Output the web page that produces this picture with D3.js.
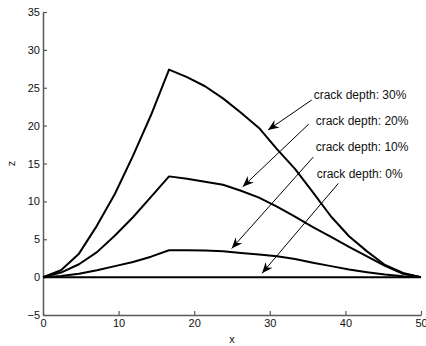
<!DOCTYPE html>
<html>
<head>
<meta charset="utf-8">
<script src="https://cdn.jsdelivr.net/npm/d3@7"></script>
<style>
  html, body { margin: 0; padding: 0; background: #fff; }
  svg { display: block; }
  text { font-family: Arial, "Liberation Sans", sans-serif; }
</style>
</head>
<body>
<svg id="chart" width="426" height="346"></svg>
<script>
// Sample positions along the span
const xs = [0, 2.38, 4.76, 7.14, 9.52, 11.9, 14.29, 16.67, 19.05, 21.43, 23.81, 26.19,
            28.57, 30.95, 33.33, 35.71, 38.1, 40.48, 42.86, 45.24, 47.62, 50];

// Deflection z for each crack depth
const depth30 = [0, 0.9, 3.1, 6.8, 11.0, 16.0, 21.4, 27.4, 26.4, 25.2, 23.6, 21.7,
                 19.7, 16.9, 14.3, 11.2, 8.0, 5.4, 3.4, 1.6, 0.55, 0];
const depth20 = [0, 0.6, 1.7, 3.3, 5.5, 7.9, 10.6, 13.3, 13.0, 12.6, 12.2, 11.4,
                 10.5, 9.3, 8.0, 6.6, 5.3, 4.0, 2.75, 1.5, 0.45, 0];
const depth10 = [0, 0.15, 0.45, 0.9, 1.45, 2.0, 2.7, 3.55, 3.55, 3.5, 3.4, 3.2,
                 3.0, 2.75, 2.4, 1.9, 1.45, 1.0, 0.65, 0.35, 0.12, 0];
const depth0  = [0, 0, 0, 0, 0, 0, 0, 0, 0, 0, 0, 0,
                 0, 0, 0, 0, 0, 0, 0, 0, 0, 0];

const seriesList = [depth30, depth20, depth10, depth0];

// Axis ticks
const xTicks = [0, 10, 20, 30, 40, 50];
const yTicks = [-5, 0, 5, 10, 15, 20, 25, 30, 35];

// Annotation labels with arrow start (label side) and tip, in data units
const annLabels = ["crack depth: 30%", "crack depth: 20%", "crack depth: 10%", "crack depth: 0%"];
const annTextAt = [[35.8, 24.1], [36.07, 20.6], [36.07, 17.17], [36.2, 13.7]];
const annFrom   = [[35.54, 23.38], [35.15, 20.2], [35.75, 15.85], [39.06, 12.37]];
const annTo     = [[29.76, 19.42], [26.42, 11.93], [24.96, 3.78], [28.97, 0.5]];

const W = 426, H = 346;
const margin = { left: 43, right: 5, top: 12, bottom: 31 };

const svg = d3.select("#chart");

const x = d3.scaleLinear().domain([0, 50]).range([margin.left, W - margin.right]);
const y = d3.scaleLinear().domain([-5, 35]).range([H - margin.bottom, margin.top]);

// Arrowhead marker
const defs = svg.append("defs");
defs.append("marker")
  .attr("id", "head")
  .attr("viewBox", "-12 -6 14 12")
  .attr("refX", 0).attr("refY", 0)
  .attr("markerWidth", 14).attr("markerHeight", 12)
  .attr("markerUnits", "userSpaceOnUse")
  .attr("orient", "auto")
  .append("path")
  .attr("d", "M0,0 L-11,-4.5 L-7.5,0 L-11,4.5 Z")
  .attr("fill", "#000");

// Axes (left and bottom only, ticks pointing inward)
const axisColor = "#5a5a5a";
const gx = svg.append("g")
  .attr("transform", `translate(0,${y(-5)})`)
  .call(d3.axisBottom(x).tickValues(xTicks).tickSizeInner(-4).tickSizeOuter(0).tickPadding(4));
const gy = svg.append("g")
  .attr("transform", `translate(${x(0)},0)`)
  .call(d3.axisLeft(y).tickValues(yTicks).tickSizeInner(-4).tickSizeOuter(0).tickPadding(3));

[gx, gy].forEach(g => {
  g.select(".domain").attr("stroke", axisColor).attr("stroke-width", 1.5);
  g.selectAll(".tick line").attr("stroke", axisColor).attr("stroke-width", 1.2);
  g.selectAll(".tick text")
    .attr("fill", "#111")
    .style("font-size", "11px")
    .style("font-family", "Arial, 'Liberation Sans', sans-serif");
});

// Curves
const line = d3.line()
  .x((d, i) => x(xs[i]))
  .y(d => y(d));

svg.append("g")
  .selectAll("path")
  .data(seriesList)
  .join("path")
  .attr("d", line)
  .attr("fill", "none")
  .attr("stroke", "#000")
  .attr("stroke-width", 2)
  .attr("stroke-linejoin", "round");

// Annotation arrows and labels
const ann = svg.append("g");
annLabels.forEach((label, i) => {
  ann.append("line")
    .attr("x1", x(annFrom[i][0])).attr("y1", y(annFrom[i][1]))
    .attr("x2", x(annTo[i][0])).attr("y2", y(annTo[i][1]))
    .attr("stroke", "#000")
    .attr("stroke-width", 1)
    .attr("marker-end", "url(#head)");
  ann.append("text")
    .attr("x", x(annTextAt[i][0]))
    .attr("y", y(annTextAt[i][1]))
    .attr("dy", "0.35em")
    .style("font-size", "12px")
    .attr("fill", "#111")
    .text(label);
});

// Axis titles
svg.append("text")
  .attr("x", x(25)).attr("y", 343)
  .attr("text-anchor", "middle")
  .style("font-size", "11px")
  .attr("fill", "#111")
  .text("x");
svg.append("text")
  .attr("transform", `translate(15,${y(15)}) rotate(-90)`)
  .attr("text-anchor", "middle")
  .style("font-size", "11px")
  .attr("fill", "#111")
  .text("z");
</script>
</body>
</html>
